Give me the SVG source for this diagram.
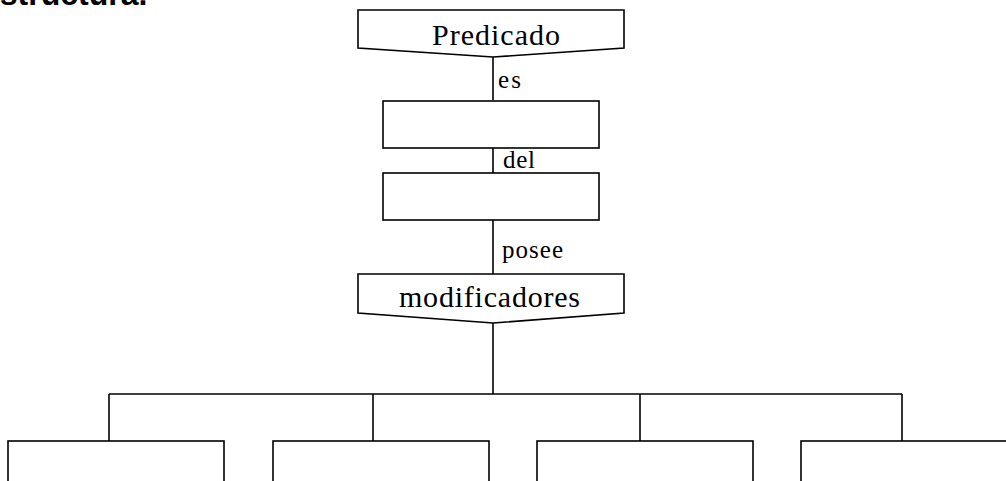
<svg xmlns="http://www.w3.org/2000/svg" width="1006" height="481" viewBox="0 0 1006 481">
<style>
.box{fill:#fff;stroke:#000;stroke-width:1.6}
.ln{fill:none;stroke:#000;stroke-width:1.6}
.big{font-family:"Liberation Serif","Times New Roman",serif;font-size:30px;fill:#000}
.sm{font-family:"Liberation Serif","Times New Roman",serif;font-size:25px;fill:#000}
.title{font-family:"Liberation Sans",Arial,sans-serif;font-size:32px;font-weight:bold;fill:#000}
</style>
<rect width="1006" height="481" fill="#fff"/>
<text class="title" x="-18" y="5">estructura.</text>
<g id="connectors">
<path class="ln" d="M493 57V100"/>
<path class="ln" d="M493 148V173"/>
<path class="ln" d="M493 220V274"/>
<path class="ln" d="M493 323V394"/>
<path class="ln" d="M109 394H902"/>
<path class="ln" d="M109 394V441M373 394V441M640 394V441M902 394V441"/>
<text class="sm" x="498" y="88" textLength="23">es</text>
<text class="sm" x="503" y="168" textLength="32">del</text>
<text class="sm" x="502" y="258" textLength="61">posee</text>
</g>
<g id="predicado">
<path class="box" d="M358 10H624V48L493 57L358 48Z"/>
<text class="big" x="432" y="45" textLength="128">Predicado</text>
</g>
<g id="box2"><rect class="box" x="383" y="101" width="216" height="47"/></g>
<g id="box3"><rect class="box" x="383" y="173" width="216" height="47"/></g>
<g id="modificadores">
<path class="box" d="M358 274H624V313L493 323L358 313Z"/>
<text class="big" x="399" y="307" textLength="181">modificadores</text>
</g>
<g id="b1"><rect class="box" x="8" y="441" width="216" height="60"/></g>
<g id="b2"><rect class="box" x="273" y="441" width="216" height="60"/></g>
<g id="b3"><rect class="box" x="537" y="441" width="216" height="60"/></g>
<g id="b4"><rect class="box" x="801" y="441" width="216" height="60"/></g>
</svg>
